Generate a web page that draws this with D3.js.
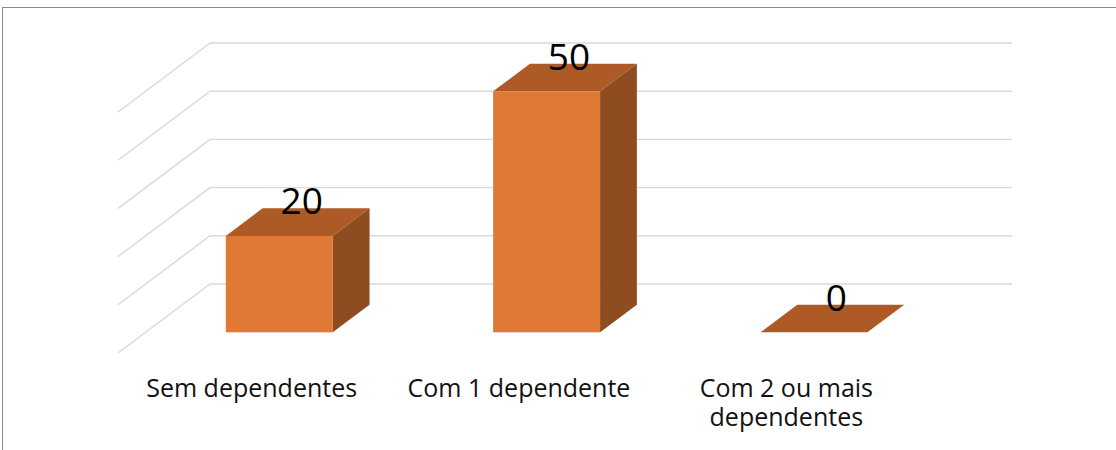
<!DOCTYPE html>
<html>
<head>
	<title>Dependentes</title>
	<script src="https://d3js.org/d3.v7.min.js" charset="utf-8"></script>
	<style>
		body { margin: 0; background: #fff; }
		text { font-family: "Open Sans", sans-serif; }
	</style>
</head>
<body>
	<svg width="1116" height="450"></svg>
	<script>
		var categories = ['Sem dependentes', 'Com 1 dependente', 'Com 2 ou mais dependentes'];
		var values = [20, 50, 0];
		var yTicks = [0, 10, 20, 30, 40, 50];

		// oblique depth of the floor (front -> back wall)
		const depthX = 92, depthY = 69;
		const barFront = 0.3, barBack = 0.7;

		var svg = d3.select('svg');

		// chart frame (runs off the right and bottom edge)
		svg.append('rect')
			.attr('x', 2.5).attr('y', 7.5)
			.attr('width', 1200).attr('height', 500)
			.attr('fill', 'none')
			.attr('stroke', '#8a8a8a')
			.attr('stroke-width', 1);

		const xScale = d3.scaleBand()
			.domain(categories)
			.range([118, 920])
			.paddingInner(0.6)
			.paddingOuter(0.3);

		const yScale = d3.scaleLinear()
			.domain([0, 50])
			.range([353, 112]);

		// project a floor-front x, a value and a depth (0 front, 1 back)
		function px(x, z) { return x + z * depthX; }
		function py(v, z) { return yScale(v) - z * depthY; }

		const grid = svg.append('g')
			.attr('stroke', '#d9d9d9')
			.attr('stroke-width', 1.4)
			.attr('fill', 'none');

		// back wall gridlines
		grid.selectAll('.back')
			.data(yTicks)
			.enter()
			.append('line')
			.attr('x1', px(118, 1))
			.attr('x2', px(920, 1))
			.attr('y1', (d) => py(d, 1))
			.attr('y2', (d) => py(d, 1));

		// side wall gridlines
		grid.selectAll('.side')
			.data(yTicks)
			.enter()
			.append('line')
			.attr('x1', px(118, 0))
			.attr('x2', px(118, 1))
			.attr('y1', (d) => py(d, 0))
			.attr('y2', (d) => py(d, 1));

		var bars = svg.selectAll('.bar')
			.data(categories.map((c, i) => ({ cat: c, val: values[i] })))
			.enter()
			.append('g');

		function poly(pts) { return 'M' + pts.map((p) => p.join(',')).join('L') + 'Z'; }

		// top face
		bars.append('path')
			.attr('fill', '#ad5a26')
			.attr('d', function(d) {
				var x0 = xScale(d.cat), x1 = x0 + xScale.bandwidth();
				return poly([
					[px(x0, barFront), py(d.val, barFront)],
					[px(x1, barFront), py(d.val, barFront)],
					[px(x1, barBack), py(d.val, barBack)],
					[px(x0, barBack), py(d.val, barBack)]
				]);
			});

		// right side face
		bars.append('path')
			.attr('fill', '#8f4c21')
			.attr('d', function(d) {
				var x1 = xScale(d.cat) + xScale.bandwidth();
				return poly([
					[px(x1, barFront), py(0, barFront)],
					[px(x1, barBack), py(0, barBack)],
					[px(x1, barBack), py(d.val, barBack)],
					[px(x1, barFront), py(d.val, barFront)]
				]);
			});

		// front face
		bars.append('rect')
			.attr('fill', '#e07836')
			.attr('x', (d) => px(xScale(d.cat), barFront))
			.attr('y', (d) => py(d.val, barFront))
			.attr('width', xScale.bandwidth())
			.attr('height', (d) => py(0, barFront) - py(d.val, barFront));

		// data labels
		bars.append('text')
			.attr('x', (d) => px(xScale(d.cat) + xScale.bandwidth() / 2, 0.5) + 4)
			.attr('y', (d) => py(d.val, barBack) + 6)
			.attr('text-anchor', 'middle')
			.attr('font-size', 37)
			.attr('fill', '#000')
			.text((d) => d.val);

		// category labels, wrapped to the band step
		var step = xScale.step();
		svg.selectAll('.cat')
			.data(categories)
			.enter()
			.append('text')
			.attr('text-anchor', 'middle')
			.attr('font-size', 25)
			.attr('fill', '#111')
			.each(function(c) {
				var t = d3.select(this);
				var cx = xScale(c) + xScale.bandwidth() / 2;
				var words = c.split(' '), line = [], lines = [];
				var probe = t.append('tspan');
				words.forEach(function(w) {
					probe.text(line.concat(w).join(' '));
					if (line.length && probe.node().getComputedTextLength() > step - 30) {
						lines.push(line.join(' '));
						line = [w];
					} else {
						line.push(w);
					}
				});
				lines.push(line.join(' '));
				probe.remove();
				lines.forEach(function(l, i) {
					t.append('tspan')
						.attr('x', cx)
						.attr('y', 397 + i * 28.5)
						.text(l);
				});
			});
	</script>
</body>
</html>
